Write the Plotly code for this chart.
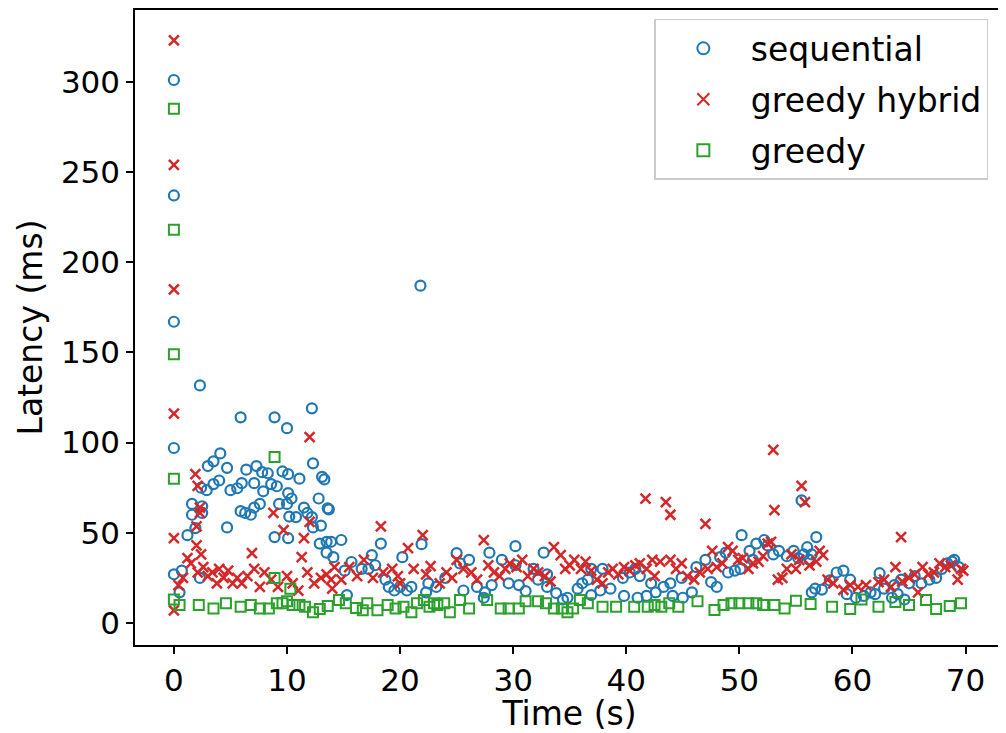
import plotly.graph_objects as go

# ---------------- data ----------------
seq_t = [0, 0, 0, 0, 0, 0.5, 0.7, 1.2, 1.6, 1.6, 1.9, 2.3, 2.3, 2.4, 2.5, 2.5, 2.9, 3.0, 3.5, 3.5,
         4.0, 4.1, 4.7, 4.7, 5.0, 5.6, 5.9, 5.9, 6.0, 6.3, 6.4, 6.8, 7.1, 7.1, 7.3, 7.6, 7.8, 7.9,
         8.3, 8.6, 8.9, 8.9, 9.1, 9.3, 9.6, 10.0, 10.0, 10.1, 10.1, 10.1, 10.2, 10.4, 10.8, 11.1,
         11.5, 11.8, 12.2, 12.2, 12.3, 12.3, 12.8, 12.9, 13.0, 13.1, 13.3, 13.5, 13.5, 13.6, 13.7,
         13.9, 14.1, 14.8, 15.1, 15.3, 15.7, 16.6, 17.2, 17.5, 17.8, 18.3, 18.7, 19.0, 19.5, 20.0,
         20.2, 20.6, 21.0, 21.8, 21.9, 22.3, 22.5, 23.2, 24.0, 25.0, 25.3, 25.6, 26.1, 26.8, 27.4,
         27.5, 27.9, 28.1, 29.0, 29.6, 30.2, 30.2, 30.5, 31.1, 31.8, 32.2, 32.7, 33.0, 33.0, 33.8,
         34.4, 34.8, 35.7, 36.1, 36.6, 36.9, 36.9, 37.7, 37.9, 38.6, 39.7, 39.8, 40.3, 40.8, 41.0,
         41.2, 41.8, 42.2, 42.6, 43.3, 43.9, 44.1, 44.9, 45.0, 45.8, 46.2, 47.0, 47.5, 48.0, 48.3,
         48.8, 49.0, 49.6, 50.1, 50.2, 50.9, 51.2, 51.5, 52.2, 52.5, 53.0, 53.5, 54.2, 54.8, 55.2,
         55.5, 55.7, 56.0, 56.2, 56.4, 56.4, 56.7, 56.8, 57.3, 58.0, 58.6, 59.2, 59.5, 59.8, 60.3,
         61.0, 61.6, 62.0, 62.4, 62.8, 63.5, 63.7, 64.0, 64.3, 64.6, 65.0, 65.5, 66.1, 66.8, 67.4,
         67.9, 68.4, 68.8, 69.0, 69.4]
seq_v = [301, 237, 167, 97, 27, 17, 29, 48.7, 60, 66, 52.6, 131.7, 25, 75, 64.7, 61, 73.6, 87, 77, 89.6,
         79, 94, 86, 53, 73.6, 74.7, 114, 62, 77.5, 61, 85, 60, 77.5, 64, 87, 66, 83.6, 73,
         83, 77, 114, 47.6, 75.8, 66, 84, 108, 66, 82.5, 72, 47, 59, 69, 58.7, 80,
         64, 61, 119, 58.7, 88.5, 53, 69, 44, 54, 81, 79.6, 45, 39, 63.6, 63,
         45, 36.5, 46, 29, 15.5, 33.8, 30, 30, 37.6, 32, 44, 24, 20, 18, 20,
         36.5, 18, 20, 187, 43.7, 17, 22, 20, 25, 38.7, 33, 18, 35, 20, 14,
         17, 39, 21, 35, 22, 42.6, 32, 21, 17.7, 30, 24, 39, 27, 20, 16.6,
         13, 14, 19, 22, 24, 30, 15.5, 18, 30, 19, 25, 15, 28, 30, 14,
         26, 15, 22, 17, 20, 22, 15, 25, 14, 17, 31, 35, 22.7, 20, 36.5,
         39, 28, 29, 30, 48.7, 40, 35, 44, 46, 43, 38, 40, 37, 40, 36,
         68, 38, 42, 35, 17, 38, 19, 47.6, 18.5, 23.6, 28, 29, 16, 24, 14,
         15, 17, 16, 27.6, 19, 14, 21, 16, 24, 13, 22, 26, 22, 24, 25,
         30, 33, 34, 35, 31]

hyb_t = [0, 0, 0, 0, 0, 0, 0.4, 0.8, 1.2, 1.5, 1.9, 2.0, 2.0, 2.1, 2.1, 2.3, 2.3, 2.4, 2.6, 3.0,
         3.4, 3.8, 4.0, 4.4, 4.8, 5.2, 5.6, 6.0, 6.5, 6.9, 7.1, 7.6, 8.0, 8.6, 8.8, 9.2, 9.7, 10.0,
         10.5, 11.0, 11.3, 11.5, 11.8, 12.0, 12.0, 12.4, 13.0, 13.5, 13.9, 14.0, 14.2, 14.8, 15.5,
         16.2, 16.8, 17.6, 18.3, 18.5, 19.3, 19.8, 20.0, 20.7, 21.2, 22.0, 22.3, 22.7, 23.5, 24.1,
         24.6, 25.0, 25.6, 26.3, 26.8, 27.4, 27.8, 28.3, 28.8, 29.3, 29.7, 30.3, 30.8, 31.3, 31.8,
         32.2, 32.8, 33.3, 33.6, 34.2, 34.6, 35.0, 35.4, 36.0, 36.4, 36.9, 37.4, 37.9, 38.4, 38.8,
         39.3, 39.8, 40.3, 40.8, 41.2, 41.7, 41.8, 42.3, 42.5, 43.0, 43.5, 43.9, 43.9, 44.4, 44.9,
         45.4, 46.0, 46.5, 47.0, 47.2, 47.6, 48.0, 48.5, 49.0, 49.4, 49.9, 50.3, 50.8, 51.2, 51.7,
         52.1, 52.5, 52.8, 53.0, 53.1, 53.4, 53.8, 54.2, 54.6, 55.0, 55.3, 55.5, 55.8, 56.2, 56.8,
         57.1, 57.4, 57.8, 58.3, 59.2, 59.8, 60.5, 61.2, 62.3, 62.8, 63.4, 63.8, 64.3, 64.4, 65.0,
         65.5, 65.8, 66.2, 66.7, 67.2, 67.7, 68.2, 68.7, 69.3, 69.6, 69.8]
hyb_v = [323, 254, 185, 116, 47, 7, 21, 25, 36, 33, 82.5, 53.6, 43, 76, 28, 64, 61, 38, 31, 26,
         28, 22, 30, 25, 29, 22, 25, 22, 26, 38.7, 30, 20, 28, 24, 61, 20, 51.5, 26,
         22, 18, 36.5, 47, 28, 103, 56, 22, 25, 27, 24, 19, 31, 24, 31,
         26, 35, 25, 53.6, 28, 30, 26, 22, 41.5, 30, 48.7, 27, 31.5, 22, 28,
         25, 35, 30, 28, 24, 46, 32, 28, 26, 30, 33, 31, 35, 26, 30,
         28, 26, 23, 42, 37.6, 30, 32, 35, 30, 34, 29, 24, 22, 28, 30,
         27, 31, 29, 32, 33, 69, 30, 35, 26, 34, 67, 60, 35, 30, 33,
         26, 24, 28, 55, 30, 40, 31, 33, 42, 40, 35, 36, 30, 33, 34,
         37, 44, 45, 96, 62.5, 24, 25, 30, 38, 30, 35, 76, 67, 32, 34,
         40, 37.6, 24, 22, 18.3, 21, 20, 21, 22.7, 24, 20, 31, 47.6, 23, 25,
         27, 17, 31, 27, 28, 33, 31, 32, 24, 30, 29]

grd_t = [0, 0, 0, 0, 0, 0.5, 2.2, 3.5, 4.6, 5.9, 6.8, 7.6, 8.4, 8.9, 8.9, 9.1, 9.6, 10.0, 10.3,
         10.5, 11.1, 11.6, 12.3, 12.9, 13.6, 14.6, 15.2, 16.1, 16.7, 17.1, 18.0, 18.9, 19.6, 20.3,
         21.0, 21.5, 22.1, 22.6, 23.0, 23.3, 23.9, 24.4, 25.3, 26.1, 27.7, 28.9, 29.6, 30.5, 31.1,
         32.2, 32.9, 33.6, 34.3, 34.8, 35.3, 35.9, 36.6, 37.9, 39.1, 40.7, 41.9, 42.5, 43.1, 43.8,
         44.6, 46.3, 47.8, 48.6, 49.3, 50.0, 50.8, 51.5, 52.1, 53.1, 54.0, 55.0, 56.3, 58.2, 59.8,
         60.8, 62.3, 63.8, 65.0, 66.5, 67.4, 68.6, 69.6]
grd_v = [285, 218, 149, 80, 13, 10, 10, 8, 11, 9, 10, 8, 8, 92, 25, 11, 11, 12, 19,
         10, 10, 9, 6, 7.7, 9.4, 12.7, 11, 8.3, 7, 11, 7, 10, 8, 9,
         6, 11, 12.7, 9, 11, 10, 11, 6, 12.7, 8, 12.7, 8, 8, 8, 12,
         12, 11, 8, 8, 6, 8, 12.7, 11, 9, 9, 9, 9, 10, 9, 11,
         9, 12, 7.2, 10, 11, 11, 11, 11, 10, 10, 8, 12.3, 10.5, 9, 7.7,
         13, 9, 11.6, 10, 12.7, 7.7, 9.4, 11]

x_ticks = [0, 10, 20, 30, 40, 50, 60, 70]
y_ticks = [0, 50, 100, 150, 200, 250, 300]

FONT = "DejaVu Sans"
BLUE, RED, GREEN = "#1f77b4", "#d62728", "#2ca02c"
TICK_SIZE = 31
LABEL_SIZE = 33

fig = go.Figure()
fig.add_trace(go.Scatter(
    x=seq_t, y=seq_v, mode="markers", name="sequential", legendgroup="a",
    marker=dict(symbol="circle-open", size=10, color=BLUE, line=dict(width=2.2, color=BLUE))))
fig.add_trace(go.Scatter(
    x=hyb_t, y=hyb_v, mode="markers", name="greedy hybrid", legendgroup="b",
    marker=dict(symbol="x-thin-open", size=10, color=RED, line=dict(width=2.5, color=RED))))
fig.add_trace(go.Scatter(
    x=grd_t, y=grd_v, mode="markers", name="greedy", legendgroup="c",
    marker=dict(symbol="square-open", size=10, color=GREEN, line=dict(width=2, color=GREEN))))

# the page body adds an 8 px offset, so the figure is 8 px smaller than the window
fig.update_layout(
    width=998, height=725,
    margin=dict(l=127, r=0, t=1, b=88),
    paper_bgcolor="white", plot_bgcolor="white",
    font=dict(family=FONT, size=TICK_SIZE, color="black"),
    showlegend=True,
    legend=dict(
        x=0.982, y=0.986, xanchor="right", yanchor="top",
        bgcolor="rgba(255,255,255,0.8)", bordercolor="#cccccc", borderwidth=1.5,
        font=dict(family=FONT, size=LABEL_SIZE, color="black"),
        itemsizing="constant", itemwidth=85, traceorder="grouped", tracegroupgap=5),
)
fig.update_xaxes(
    range=[-3.44, 73.4], tickmode="array", tickvals=x_ticks,
    showgrid=False, zeroline=False,
    showline=True, linecolor="black", linewidth=1.5, mirror=True,
    ticks="outside", ticklen=7, tickwidth=1.5, tickcolor="black",
    tickfont=dict(family=FONT, size=TICK_SIZE, color="black"),
    title=dict(text="Time (s)", font=dict(family=FONT, size=LABEL_SIZE, color="black"), standoff=5))
fig.update_yaxes(
    range=[-12.2, 339.8], tickmode="array", tickvals=y_ticks,
    showgrid=False, zeroline=False,
    showline=True, linecolor="black", linewidth=1.5, mirror=True,
    ticks="outside", ticklen=7, tickwidth=1.5, tickcolor="black",
    tickfont=dict(family=FONT, size=TICK_SIZE, color="black"),
    title=dict(text="Latency (ms)", font=dict(family=FONT, size=LABEL_SIZE, color="black"), standoff=8))

fig.write_html("out.html")
